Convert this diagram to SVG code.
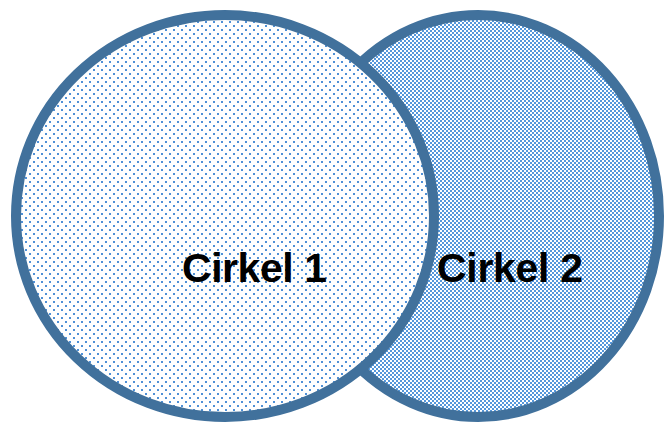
<svg xmlns="http://www.w3.org/2000/svg" width="665" height="424" viewBox="0 0 665 424">
<defs>
<pattern id="dots" width="8" height="8" patternUnits="userSpaceOnUse">
<rect x="1" y="1" width="2" height="2" fill="#4f90d6"/>
<rect x="5" y="5" width="2" height="2" fill="#4f90d6"/>
</pattern>
<pattern id="check" width="4" height="4" patternUnits="userSpaceOnUse">
<rect x="0" y="0" width="2" height="2" fill="#5597db"/>
<rect x="2" y="2" width="2" height="2" fill="#5597db"/>
</pattern>
<style>
.c{stroke:#41719c;stroke-width:10}
.t{font-family:"Liberation Sans",Arial,sans-serif;font-weight:bold;font-size:41px;fill:#000}
</style>
</defs>
<rect width="665" height="424" fill="#fff"/>
<g id="cirkel2">
<ellipse cx="478" cy="216" rx="181" ry="201" fill="#fff"/>
<ellipse class="c" cx="478" cy="216" rx="181" ry="201" fill="url(#check)"/>
<text class="t" x="437" y="282" textLength="146">Cirkel 2</text>
</g>
<g id="cirkel1">
<ellipse cx="225" cy="216" rx="209" ry="201" fill="#fff"/>
<ellipse class="c" cx="225" cy="216" rx="209" ry="201" fill="url(#dots)"/>
<text class="t" x="182" y="282" textLength="145">Cirkel 1</text>
</g>
</svg>
